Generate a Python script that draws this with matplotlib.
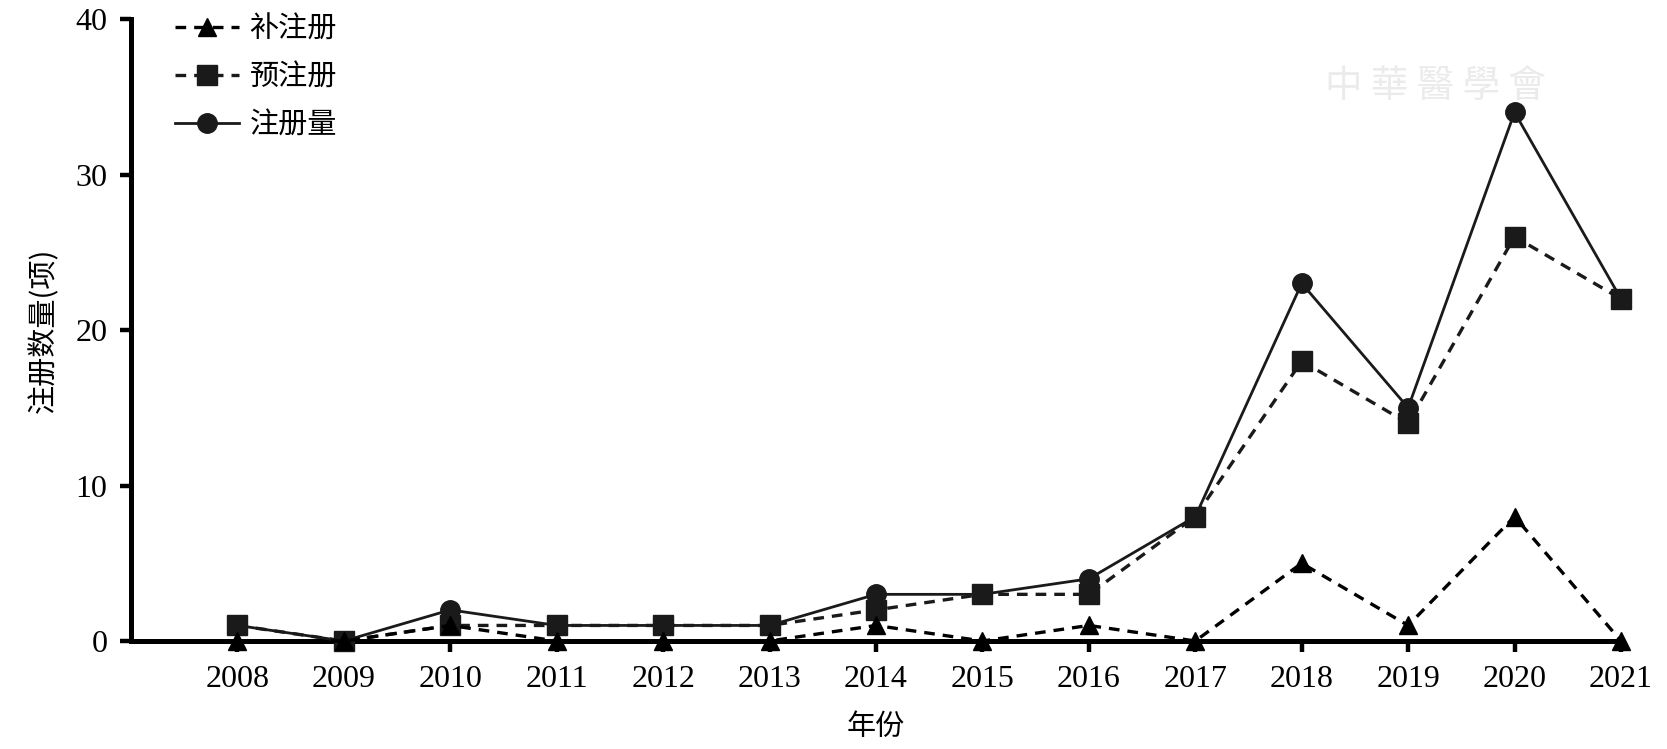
import matplotlib
matplotlib.use("Agg")
import matplotlib.pyplot as plt

# data
years = [2008, 2009, 2010, 2011, 2012, 2013, 2014, 2015, 2016, 2017, 2018, 2019, 2020, 2021]
bu_zhuce = [0, 0, 1, 0, 0, 0, 1, 0, 1, 0, 5, 1, 8, 0]        # 补注册
yu_zhuce = [1, 0, 1, 1, 1, 1, 2, 3, 3, 8, 18, 14, 26, 22]    # 预注册
zhuce_liang = [1, 0, 2, 1, 1, 1, 3, 3, 4, 8, 23, 15, 34, 22]  # 注册量
y_ticks = [0, 10, 20, 30, 40]

num_font = "Liberation Serif"
cjk_font = ["Noto Sans CJK SC", "DejaVu Sans"]

fig = plt.figure(figsize=(16.67, 7.49), dpi=100, facecolor="white")
ax = fig.add_axes([0.0786, 0.1442, 0.8938, 0.8304])

dash = (0, (3.2, 2.4))
l3, = ax.plot(years, zhuce_liang, color="#1a1a1a", lw=2.0, ls="-",
              marker="o", ms=14, zorder=3, clip_on=False, label="注册量")
l2, = ax.plot(years, yu_zhuce, color="#1a1a1a", lw=2.4, ls=dash,
              marker="s", ms=14, zorder=4, clip_on=False, label="预注册")
l1, = ax.plot(years, bu_zhuce, color="#000000", lw=2.4, ls=dash,
              marker="^", ms=13, zorder=5, clip_on=False, label="补注册")

ax.set_xlim(2007, 2021)
ax.set_ylim(0, 40)
ax.set_xticks(years)
ax.set_yticks(y_ticks)

for s in ["top", "right"]:
    ax.spines[s].set_visible(False)
for s in ["left", "bottom"]:
    ax.spines[s].set_linewidth(3.6)
    ax.spines[s].set_zorder(2)
ax.tick_params(axis="both", width=3.2, length=8, direction="out", pad=9)
for lab in ax.get_xticklabels() + ax.get_yticklabels():
    lab.set_fontfamily(num_font)
    lab.set_fontsize(23)

ax.set_xlabel("年份", family=cjk_font, fontsize=21, labelpad=13)
ax.set_ylabel("注册数量(项)", family=cjk_font, fontsize=21, labelpad=12)

leg = ax.legend(handles=[l1, l2, l3], loc="upper left", bbox_to_anchor=(0.012, 1.05),
                frameon=False, prop={"family": cjk_font, "size": 21},
                handlelength=2.2, handletextpad=0.35, labelspacing=0.62)

# faint watermark
fig.text(0.795, 0.885, "中 華 醫 學 會", family=["Noto Sans CJK TC", "DejaVu Sans"],
         fontsize=27, color="#ebebeb", ha="left", va="center", zorder=0)

fig.savefig("out.png", dpi=100, facecolor="white")
